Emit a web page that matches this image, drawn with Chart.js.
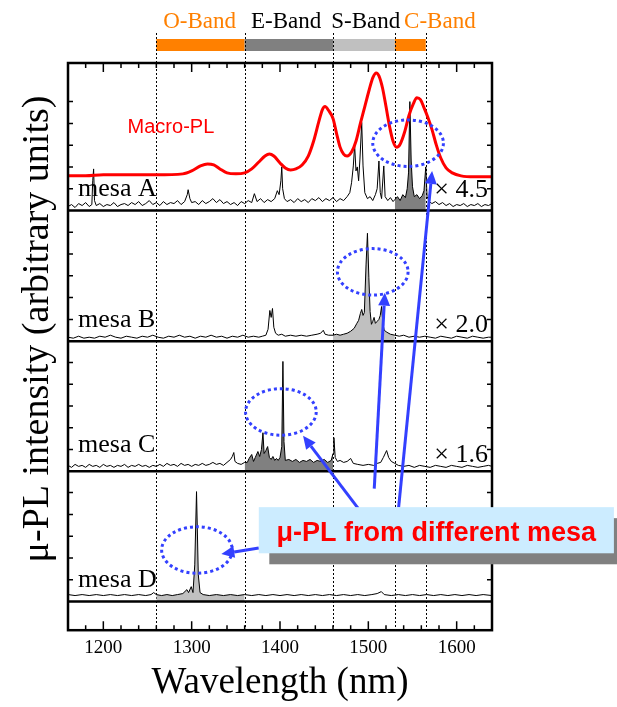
<!DOCTYPE html>
<html>
<head>
<meta charset="utf-8">
<title>μ-PL spectra of single mesas</title>
<script src="https://cdn.jsdelivr.net/npm/chart.js@4.4.1/dist/chart.umd.min.js"></script>
<style>
  html, body { margin: 0; padding: 0; background: #ffffff; }
  canvas { display: block; }
</style>
</head>
<body>
<canvas id="plChart" width="617" height="707"></canvas>
<script>
// wavelength axis (nm)
const xMin = 1160;
const xMax = 1640;
const xTickStep = 100;
const minorTickStep = 20;

// telecom bands
const bandNames = ['O-Band', 'E-Band', 'S-Band', 'C-Band'];
const bandStart = [1260, 1360, 1460, 1530];
const bandEnd = [1360, 1460, 1530, 1565];
const bandLabelAt = [1309, 1407, 1497, 1581];

// macro-PL (panel A units)
const macroNm = [1160, 1180, 1200, 1230, 1260, 1290, 1300, 1310, 1318, 1325, 1332, 1340, 1350, 1360, 1368, 1376, 1383, 1388, 1393, 1400, 1406, 1412, 1418, 1425, 1432, 1438, 1444, 1448, 1451, 1455, 1460, 1464, 1468, 1472, 1476, 1481, 1486, 1491, 1496, 1501, 1505, 1509, 1512, 1516, 1520, 1524, 1528, 1532, 1536, 1541, 1546, 1551, 1555, 1559, 1563, 1567, 1572, 1577, 1582, 1588, 1595, 1605, 1620, 1640];
const macroVal = [35, 35, 36, 36, 36, 37, 40, 45, 47, 46, 42, 38, 37, 38, 42, 49, 55, 57, 55, 48, 43, 41, 42, 46, 55, 70, 90, 102, 105, 101, 93, 78, 64, 57, 55, 59, 70, 88, 105, 122, 134, 139, 136, 124, 105, 85, 70, 64, 67, 79, 96, 108, 114, 112, 104, 95, 82, 66, 53, 43, 38, 35, 34, 34];

// mesa A
const mesaANm = [1160, 1164, 1168, 1172, 1176, 1180, 1184, 1187, 1188, 1189, 1190, 1192, 1196, 1200, 1204, 1208, 1212, 1216, 1220, 1224, 1228, 1232, 1236, 1240, 1244, 1248, 1252, 1256, 1260, 1264, 1268, 1272, 1276, 1280, 1284, 1288, 1292, 1295, 1296, 1298, 1300, 1304, 1308, 1312, 1316, 1320, 1324, 1328, 1332, 1336, 1340, 1344, 1348, 1352, 1356, 1360, 1364, 1368, 1371, 1374, 1378, 1382, 1386, 1390, 1394, 1397, 1399, 1401, 1402, 1403, 1405, 1408, 1412, 1416, 1420, 1424, 1428, 1432, 1436, 1440, 1444, 1448, 1452, 1456, 1460, 1464, 1468, 1472, 1476, 1479, 1481, 1483, 1484.5, 1486, 1487.5, 1489, 1490.5, 1492.5, 1494, 1496, 1499, 1502, 1505, 1508, 1510, 1512, 1513.5, 1515, 1517.5, 1519, 1522, 1525, 1528, 1530, 1533, 1536, 1539, 1542, 1544, 1545.5, 1547, 1548.5, 1550, 1552, 1555, 1558, 1561, 1563, 1565, 1566.5, 1569, 1572, 1576, 1580, 1584, 1588, 1592, 1596, 1600, 1604, 1608, 1612, 1616, 1620, 1624, 1628, 1632, 1636, 1640];
const mesaAVal = [4, 6, 3, 7, 5, 8, 4, 6, 30, 42, 10, 5, 7, 4, 6, 5, 8, 4, 6, 7, 5, 8, 6, 9, 5, 7, 10, 6, 8, 5, 9, 6, 8, 7, 10, 6, 9, 16, 21, 12, 8, 9, 6, 10, 7, 9, 12, 8, 11, 7, 9, 6, 8, 5, 9, 7, 10, 8, 17, 9, 12, 8, 11, 9, 12, 20, 16, 30, 44, 22, 12, 9, 11, 8, 12, 9, 11, 8, 12, 10, 13, 9, 12, 10, 13, 9, 12, 10, 14, 18, 28, 45, 66, 40, 44, 30, 52, 89, 45, 18, 12, 14, 10, 16, 22, 50, 18, 12, 45, 14, 10, 13, 9, 11, 14, 10, 16, 13, 22, 38, 110, 50, 24, 14, 16, 12, 15, 20, 44, 14, 9, 7, 9, 6, 8, 5, 7, 4, 6, 5, 7, 4, 6, 5, 7, 4, 6, 5, 7];

// mesa B
const mesaBNm = [1160, 1166, 1172, 1178, 1184, 1190, 1196, 1202, 1208, 1214, 1220, 1226, 1232, 1238, 1244, 1250, 1256, 1262, 1268, 1274, 1280, 1286, 1292, 1298, 1304, 1310, 1316, 1322, 1328, 1334, 1340, 1346, 1352, 1358, 1364, 1370, 1376, 1380, 1384, 1386.5, 1388.5, 1390, 1391.5, 1393, 1395, 1398, 1402, 1406, 1412, 1418, 1424, 1430, 1436, 1442, 1446, 1449, 1451, 1455, 1460, 1464, 1468, 1472, 1476, 1480, 1484, 1487, 1489, 1491, 1492.5, 1494, 1495.5, 1497.4, 1499, 1500.6, 1502, 1503.5, 1505, 1506.5, 1508, 1510, 1512, 1513.5, 1515, 1516.5, 1518, 1521, 1525, 1530, 1535, 1540, 1546, 1552, 1558, 1564, 1570, 1576, 1582, 1588, 1594, 1600, 1606, 1612, 1618, 1624, 1630, 1636, 1640];
const mesaBVal = [4, 3, 5, 3, 4, 3, 5, 4, 6, 4, 3, 5, 4, 3, 5, 4, 6, 4, 3, 5, 4, 6, 4, 5, 3, 5, 4, 6, 4, 5, 3, 5, 4, 6, 4, 5, 4, 5, 6, 12, 31, 24, 33, 14, 8, 6, 7, 5, 6, 5, 6, 5, 6, 7, 8, 11, 7, 6, 6, 7, 6, 7, 8, 10, 13, 18, 21, 28, 32, 26, 29, 77, 109, 64, 30, 17, 20, 24, 18, 20, 22, 26, 35, 18, 11, 9, 7, 6, 5, 6, 4, 5, 4, 5, 4, 3, 5, 4, 3, 5, 4, 3, 5, 4, 3, 4, 4];

// mesa C
const mesaCNm = [1160, 1164, 1168, 1172, 1176, 1180, 1184, 1188, 1192, 1196, 1200, 1204, 1208, 1212, 1216, 1220, 1224, 1228, 1232, 1236, 1240, 1244, 1248, 1252, 1256, 1260, 1264, 1268, 1272, 1276, 1280, 1284, 1288, 1292, 1296, 1300, 1304, 1308, 1312, 1316, 1320, 1324, 1328, 1332, 1336, 1340, 1344, 1346, 1347.7, 1349, 1352, 1356, 1360, 1363, 1365, 1368, 1370, 1372, 1375, 1377, 1379, 1380.7, 1382, 1384, 1386, 1388, 1390, 1392, 1394, 1396, 1398, 1400, 1402, 1403.3, 1404.5, 1406, 1410, 1414, 1418, 1422, 1426, 1430, 1434, 1438, 1442, 1446, 1450, 1454, 1458, 1460, 1461, 1462.5, 1465, 1468, 1472, 1476, 1480, 1483, 1488, 1494, 1500, 1506, 1510, 1514, 1517, 1520.7, 1523, 1526, 1530, 1534, 1540, 1546, 1552, 1558, 1564, 1570, 1576, 1582, 1588, 1594, 1600, 1606, 1612, 1618, 1624, 1630, 1636, 1640];
const mesaCVal = [6, 4, 7, 5, 6, 4, 7, 5, 6, 4, 7, 5, 6, 4, 6, 5, 7, 4, 6, 5, 7, 5, 6, 4, 6, 5, 7, 5, 8, 6, 7, 5, 8, 6, 7, 5, 7, 6, 8, 6, 7, 9, 7, 8, 6, 9, 12, 15, 19, 10, 8, 7, 9, 9, 13, 17, 10, 14, 20, 15, 22, 39, 18, 21, 25, 14, 12, 15, 11, 13, 11, 14, 25, 111, 30, 11, 12, 10, 12, 9, 11, 10, 12, 9, 11, 10, 12, 9, 11, 18, 34, 14, 10, 11, 9, 10, 13, 8, 7, 6, 7, 6, 8, 9, 14, 21, 14, 10, 8, 6, 5, 6, 4, 6, 5, 4, 6, 5, 4, 6, 5, 4, 6, 5, 4, 5, 6, 5];

// mesa D
const mesaDNm = [1160, 1168, 1176, 1184, 1192, 1200, 1208, 1216, 1224, 1232, 1240, 1248, 1254, 1257, 1260, 1266, 1272, 1278, 1284, 1290, 1294.6, 1296.5, 1299.5, 1301.5, 1303.5, 1305.5, 1307.5, 1309.5, 1313, 1320, 1328, 1336, 1344, 1352, 1360, 1368, 1376, 1384, 1392, 1400, 1408, 1416, 1424, 1432, 1440, 1448, 1456, 1464, 1472, 1480, 1488, 1496, 1504, 1510, 1514.7, 1518, 1526, 1534, 1542, 1550, 1558, 1566, 1574, 1582, 1590, 1598, 1606, 1614, 1622, 1630, 1640];
const mesaDVal = [7, 6, 7, 6, 7, 6, 7, 6, 7, 6, 7, 6, 7, 9, 7, 6, 7, 6, 7, 8, 12, 9, 15, 9, 37, 111, 27, 9, 7, 6, 7, 6, 7, 6, 7, 6, 7, 6, 7, 6, 7, 6, 7, 6, 7, 6, 7, 6, 7, 6, 7, 6, 7, 8, 10, 7, 6, 7, 6, 7, 6, 7, 6, 7, 6, 7, 6, 7, 6, 7, 6];

const mesaNames = ['mesa A', 'mesa B', 'mesa C', 'mesa D'];
const mesaFactors = ['× 4.5', '× 2.0', '× 1.6', ''];
const mesaFillBand = [3, 2, 1, 0];

const yTitle = 'μ-PL intensity (arbitrary units)';
const xTitle = 'Wavelength (nm)';
const macroLabel = 'Macro-PL';
const calloutText = 'μ-PL from different mesa';

// panels, stacked from top to bottom
const panelIds = ['yA', 'yB', 'yC', 'yD', 'yGap'];
const panelHeights = [149, 132, 131.5, 131.5, 29];

const serif = '"Liberation Serif", "Times New Roman", serif';
const sans = '"Liberation Sans", Arial, sans-serif';
const blue = '#3340ff';

function toPoints(nm, val) {
  return nm.map((x, i) => ({ x, y: val[i] }));
}

function bandPoints(nm, val, band) {
  return toPoints(nm, val).filter(p => p.x >= bandStart[band] && p.x <= bandEnd[band]);
}

const spectra = [
  { nm: mesaANm, val: mesaAVal, axis: 'yA' },
  { nm: mesaBNm, val: mesaBVal, axis: 'yB' },
  { nm: mesaCNm, val: mesaCVal, axis: 'yC' },
  { nm: mesaDNm, val: mesaDVal, axis: 'yD' }
];

const fillColors = ['#808080', '#c0c0c0', '#808080', '#c0c0c0'];

const datasets = [];

spectra.forEach((s, i) => {
  datasets.push({
    label: mesaNames[i] + ' band',
    data: bandPoints(s.nm, s.val, mesaFillBand[i]),
    yAxisID: s.axis,
    fill: 'origin',
    backgroundColor: fillColors[i],
    borderWidth: 0,
    pointRadius: 0,
    order: 3
  });
  datasets.push({
    label: mesaNames[i],
    data: toPoints(s.nm, s.val),
    yAxisID: s.axis,
    fill: false,
    borderColor: '#000000',
    borderWidth: 1,
    pointRadius: 0,
    order: 2
  });
});

datasets.push({
  label: macroLabel,
  data: toPoints(macroNm, macroVal),
  yAxisID: 'yA',
  fill: false,
  borderColor: '#ff0000',
  borderWidth: 3,
  pointRadius: 0,
  cubicInterpolationMode: 'monotone',
  order: 1
});

// annotations, in wavelength and panel units
const labelSpots = [
  { axis: 'yA', mesaY: 15, factorY: 14 },
  { axis: 'yB', mesaY: 14, factorY: 9 },
  { axis: 'yC', mesaY: 19.5, factorY: 9 },
  { axis: 'yD', mesaY: 15, factorY: 9 }
];
const ellipses = [
  { axis: 'yA', nm: 1545, val: 68 },
  { axis: 'yB', nm: 1505, val: 70 },
  { axis: 'yC', nm: 1401, val: 60 },
  { axis: 'yD', nm: 1306, val: 52 }
];
const arrows = [
  { from: ['yD', 1534.3, 95], to: ['yA', 1572.2, 40] },
  { from: ['yD', 1506.7, 114], to: ['yB', 1518.7, 49] },
  { from: ['yD', 1488.5, 94], to: ['yC', 1426.1, 36] },
  { from: ['yD', 1376, 54], to: ['yD', 1333.6, 48] }
];
const calloutBox = { axis: 'yD', nm0: 1376, nm1: 1778, top: 95.3, bottom: 48.7 };

function px(chart, axis, nm, val) {
  return [chart.scales.x.getPixelForValue(nm), chart.scales[axis].getPixelForValue(val)];
}

function drawArrow(ctx, x0, y0, x1, y1) {
  const angle = Math.atan2(y1 - y0, x1 - x0);
  const head = 13;
  const bx = x1 - head * Math.cos(angle);
  const by = y1 - head * Math.sin(angle);
  ctx.beginPath();
  ctx.moveTo(x0, y0);
  ctx.lineTo(bx, by);
  ctx.stroke();
  ctx.beginPath();
  ctx.moveTo(x1, y1);
  ctx.lineTo(bx + 6 * Math.sin(angle), by - 6 * Math.cos(angle));
  ctx.lineTo(bx - 6 * Math.sin(angle), by + 6 * Math.cos(angle));
  ctx.closePath();
  ctx.fill();
}

const decorations = {
  id: 'decorations',
  beforeDatasetsDraw(chart) {
    const { ctx, chartArea: area, scales } = chart;
    const x = scales.x;
    ctx.save();

    // band bar and names above the frame
    const barColors = ['#ff8000', '#808080', '#c0c0c0', '#ff8000'];
    const textColors = ['#ff8000', '#000000', '#000000', '#ff8000'];
    ctx.font = '23px ' + serif;
    ctx.textAlign = 'center';
    ctx.textBaseline = 'alphabetic';
    bandStart.forEach((lo, i) => {
      const x0 = x.getPixelForValue(lo);
      const x1 = x.getPixelForValue(bandEnd[i]);
      ctx.fillStyle = barColors[i];
      ctx.fillRect(x0, area.top - 24, x1 - x0, 12);
      ctx.fillStyle = textColors[i];
      ctx.fillText(bandNames[i], x.getPixelForValue(bandLabelAt[i]), area.top - 35);
    });

    // dotted band edges
    const edges = [...new Set(bandStart.concat(bandEnd))];
    ctx.strokeStyle = '#000000';
    ctx.lineWidth = 1;
    ctx.setLineDash([2, 2]);
    edges.forEach(v => {
      const p = Math.round(x.getPixelForValue(v)) + 0.5;
      ctx.beginPath();
      ctx.moveTo(p, area.top - 30);
      ctx.lineTo(p, area.bottom);
      ctx.stroke();
    });
    ctx.restore();
  },

  afterDatasetsDraw(chart) {
    const { ctx, chartArea: area, scales } = chart;
    const x = scales.x;
    ctx.save();
    ctx.strokeStyle = '#000000';

    // panel dividers
    ctx.lineWidth = 2.5;
    panelIds.slice(0, 4).forEach(id => {
      const y = scales[id].getPixelForValue(0);
      ctx.beginPath();
      ctx.moveTo(area.left, y);
      ctx.lineTo(area.right, y);
      ctx.stroke();
    });

    // inward ticks
    ctx.lineWidth = 1.5;
    for (let v = xMin + minorTickStep; v < xMax; v += minorTickStep) {
      const p = x.getPixelForValue(v);
      const len = v % xTickStep === 0 ? 9 : 5;
      ctx.beginPath();
      ctx.moveTo(p, area.top);
      ctx.lineTo(p, area.top + len);
      ctx.moveTo(p, area.bottom);
      ctx.lineTo(p, area.bottom - len);
      ctx.stroke();
    }
    panelIds.slice(0, 4).forEach(id => {
      const s = scales[id];
      s.ticks.forEach(t => {
        if (t.value <= 0 || t.value >= s.max) return;
        const y = s.getPixelForValue(t.value);
        ctx.beginPath();
        ctx.moveTo(area.left, y);
        ctx.lineTo(area.left + 5, y);
        ctx.moveTo(area.right, y);
        ctx.lineTo(area.right - 5, y);
        ctx.stroke();
      });
    });

    // frame
    ctx.lineWidth = 2.5;
    ctx.strokeRect(area.left, area.top, area.right - area.left, area.bottom - area.top);

    // panel labels
    ctx.fillStyle = '#000000';
    ctx.font = '26px ' + serif;
    ctx.textBaseline = 'alphabetic';
    labelSpots.forEach((spot, i) => {
      const s = scales[spot.axis];
      ctx.textAlign = 'left';
      ctx.fillText(mesaNames[i], area.left + 10, s.getPixelForValue(spot.mesaY));
      if (mesaFactors[i]) {
        ctx.textAlign = 'right';
        ctx.fillText(mesaFactors[i], area.right - 4, s.getPixelForValue(spot.factorY));
      }
    });

    ctx.fillStyle = '#ff0000';
    ctx.font = '20px ' + sans;
    ctx.textAlign = 'center';
    ctx.textBaseline = 'middle';
    const [mx, my] = px(chart, 'yA', 1276.5, 84);
    ctx.fillText(macroLabel, mx, my);

    // y title
    ctx.fillStyle = '#000000';
    ctx.font = '38px ' + serif;
    ctx.translate(38, 329);
    ctx.rotate(-Math.PI / 2);
    ctx.fillText(yTitle, 0, 0);
    ctx.restore();
  },

  afterDraw(chart) {
    const { ctx, scales } = chart;
    const x = scales.x;
    ctx.save();

    // dotted ellipses
    ctx.strokeStyle = blue;
    ctx.lineWidth = 3;
    ctx.setLineDash([3, 3]);
    ellipses.forEach(e => {
      const [cx, cy] = px(chart, e.axis, e.nm, e.val);
      const rx = x.getPixelForValue(e.nm + 40) - cx;
      const ry = scales[e.axis].getPixelForValue(e.val - 23.5) - cy;
      ctx.beginPath();
      ctx.ellipse(cx, cy, rx, ry, 0, 0, Math.PI * 2);
      ctx.stroke();
    });

    // arrows
    ctx.setLineDash([]);
    ctx.fillStyle = blue;
    arrows.forEach(a => {
      const [x0, y0] = px(chart, ...a.from);
      const [x1, y1] = px(chart, ...a.to);
      drawArrow(ctx, x0, y0, x1, y1);
    });

    // callout with shadow
    const [bx0, by0] = px(chart, calloutBox.axis, calloutBox.nm0, calloutBox.top);
    const [bx1, by1] = px(chart, calloutBox.axis, calloutBox.nm1, calloutBox.bottom);
    ctx.fillStyle = '#808080';
    ctx.fillRect(bx0 + 10.5, by0 + 11, bx1 - bx0, by1 - by0);
    ctx.fillStyle = '#ccecff';
    ctx.fillRect(bx0, by0, bx1 - bx0, by1 - by0);
    ctx.fillStyle = '#ff0000';
    ctx.font = 'bold 27px ' + sans;
    ctx.textAlign = 'center';
    ctx.textBaseline = 'middle';
    ctx.fillText(calloutText, (bx0 + bx1) / 2, (by0 + by1) / 2 + 3);
    ctx.restore();
  }
};

function panelAxis(i) {
  return {
    type: 'linear',
    position: 'left',
    stack: 'mesas',
    stackWeight: panelHeights[i],
    weight: panelIds.length - i,
    min: 0,
    max: panelHeights[i],
    ticks: { display: false, stepSize: 22 },
    grid: { display: false, drawTicks: false },
    border: { display: false }
  };
}

const scales = {
  x: {
    type: 'linear',
    position: 'bottom',
    min: xMin,
    max: xMax,
    ticks: {
      stepSize: xTickStep,
      includeBounds: false,
      color: '#000000',
      padding: 6,
      maxRotation: 0,
      font: { family: serif, size: 19 },
      callback: value => String(value)
    },
    grid: { display: false, drawTicks: false },
    border: { display: false },
    title: {
      display: true,
      text: xTitle,
      color: '#000000',
      font: { family: serif, size: 37, lineHeight: 1 },
      padding: { top: 0, bottom: 5 }
    }
  }
};
panelIds.forEach((id, i) => { scales[id] = panelAxis(i); });

new Chart(document.getElementById('plChart'), {
  type: 'line',
  data: { datasets },
  options: {
    responsive: false,
    animation: false,
    devicePixelRatio: 1,
    layout: { padding: { left: 68, right: 125, top: 63, bottom: 0 } },
    scales,
    plugins: {
      legend: { display: false },
      tooltip: { enabled: false }
    }
  },
  plugins: [decorations]
});
</script>
</body>
</html>
